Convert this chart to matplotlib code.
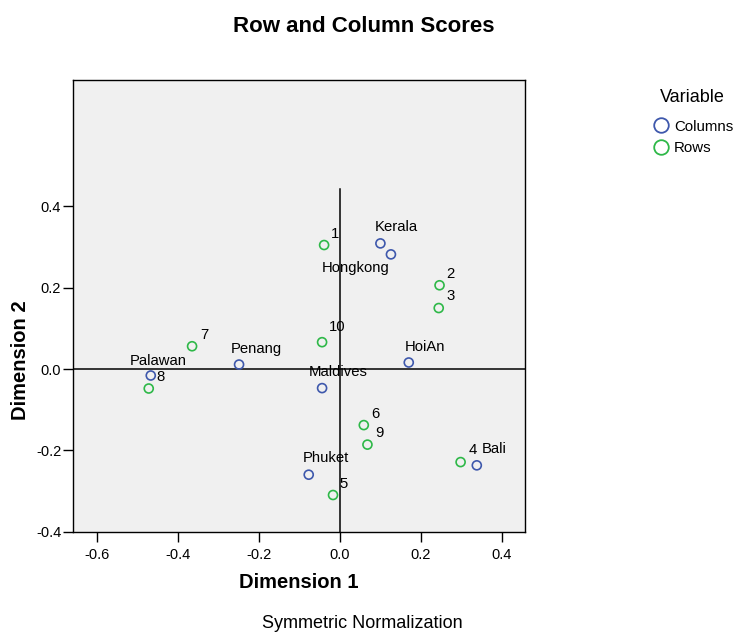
import matplotlib
matplotlib.use("Agg")
import matplotlib.pyplot as plt
from matplotlib.lines import Line2D

plt.rcParams['font.family'] = ['Liberation Sans', 'DejaVu Sans']
plt.rcParams['axes.unicode_minus'] = False

# Column points (destinations)
col_names = ["Kerala", "Hongkong", "HoiAn", "Penang", "Palawan", "Maldives", "Phuket", "Bali"]
col_dim1 = [0.100, 0.126, 0.170, -0.249, -0.467, -0.044, -0.077, 0.338]
col_dim2 = [0.309, 0.282, 0.016, 0.011, -0.016, -0.047, -0.260, -0.237]

# Row points
row_names = ["1", "2", "3", "4", "5", "6", "7", "8", "9", "10"]
row_dim1 = [-0.039, 0.246, 0.244, 0.298, -0.017, 0.059, -0.365, -0.472, 0.068, -0.044]
row_dim2 = [0.305, 0.206, 0.150, -0.229, -0.310, -0.138, 0.056, -0.048, -0.186, 0.066]

xticks = [-0.6, -0.4, -0.2, 0.0, 0.2, 0.4]
yticks = [-0.4, -0.2, 0.0, 0.2, 0.4]

# label offsets (pixels, label centre relative to point; y up)
col_off = [(16, 16), (-35, -14), (16, 16), (17, 16), (7, 15), (16, 16), (17, 17), (17, 16)]
row_off = [(11, 11), (11, 11), (12, 12), (12, 12), (11, 11), (12, 11), (12, 11), (12, 12), (12, 12), (15, 15)]

BLUE = "#3E58AC"
GREEN = "#2EB848"

W, H = 735, 632
fig = plt.figure(figsize=(W / 100, H / 100), dpi=100)
ax = fig.add_axes([73 / W, 1 - 532 / H, (525 - 73) / W, (532 - 80) / H])
ax.set_facecolor("#F0F0F0")

ax.set_xlim(-0.659, 0.457)
ax.set_ylim(-0.401, 0.711)

ax.axhline(0, color="black", lw=1.1, zorder=1)
ax.plot([0, 0], [-0.401, 0.442], color="black", lw=1.1, zorder=1)

ax.scatter(col_dim1, col_dim2, s=42, facecolors="none", edgecolors=BLUE, linewidths=1.2, zorder=3)
ax.scatter(row_dim1, row_dim2, s=42, facecolors="none", edgecolors=GREEN, linewidths=1.2, zorder=3)

for n, x, y, (dx, dy) in zip(col_names, col_dim1, col_dim2, col_off):
    ax.annotate(n, (x, y), xytext=(dx, dy), textcoords="offset pixels",
                ha="center", va="center", fontsize=10.7, color="black", zorder=4)
for n, x, y, (dx, dy) in zip(row_names, row_dim1, row_dim2, row_off):
    ax.annotate(n, (x, y), xytext=(dx, dy), textcoords="offset pixels",
                ha="center", va="center", fontsize=10.7, color="black", zorder=4)

ax.set_xticks(xticks)
ax.set_yticks(yticks)
ax.set_xticklabels([f"{t:.1f}" for t in xticks])
ax.set_yticklabels([f"{t:.1f}" for t in yticks])
ax.tick_params(direction="out", length=7, width=1, labelsize=10.5, colors="black")
ax.tick_params(axis="y", pad=1.5)
ax.tick_params(axis="x", pad=4.5)
for sp in ax.spines.values():
    sp.set_linewidth(1.0)
    sp.set_color("black")

fig.text(363.5 / W, 1 - 32 / H, "Row and Column Scores", ha="center", va="baseline",
         fontsize=16, fontweight="bold")
fig.text(299 / W, 1 - 588 / H, "Dimension 1", ha="center", va="baseline",
         fontsize=14.5, fontweight="bold")
fig.text(21 / W, 1 - 360 / H, "Dimension 2", ha="center", va="center",
         fontsize=14.5, fontweight="bold", rotation=90)
fig.text(362.5 / W, 1 - 628 / H, "Symmetric Normalization", ha="center", va="baseline",
         fontsize=13)

fig.text(692 / W, 1 - 98 / H, "Variable", ha="center", va="center", fontsize=13)
handles = [Line2D([], [], ls="none", marker="o", ms=10.5, mfc="none", mec=BLUE, mew=1.3),
           Line2D([], [], ls="none", marker="o", ms=10.5, mfc="none", mec=GREEN, mew=1.3)]
leg = fig.legend(handles, ["Columns", "Rows"], frameon=False,
                 loc="center left", bbox_to_anchor=(653 / W, 1 - 137.5 / H),
                 fontsize=10.8, handlelength=1.0,
                 handletextpad=0.4, labelspacing=0.52, borderpad=0, borderaxespad=0)

fig.savefig("out.png", dpi=100)
